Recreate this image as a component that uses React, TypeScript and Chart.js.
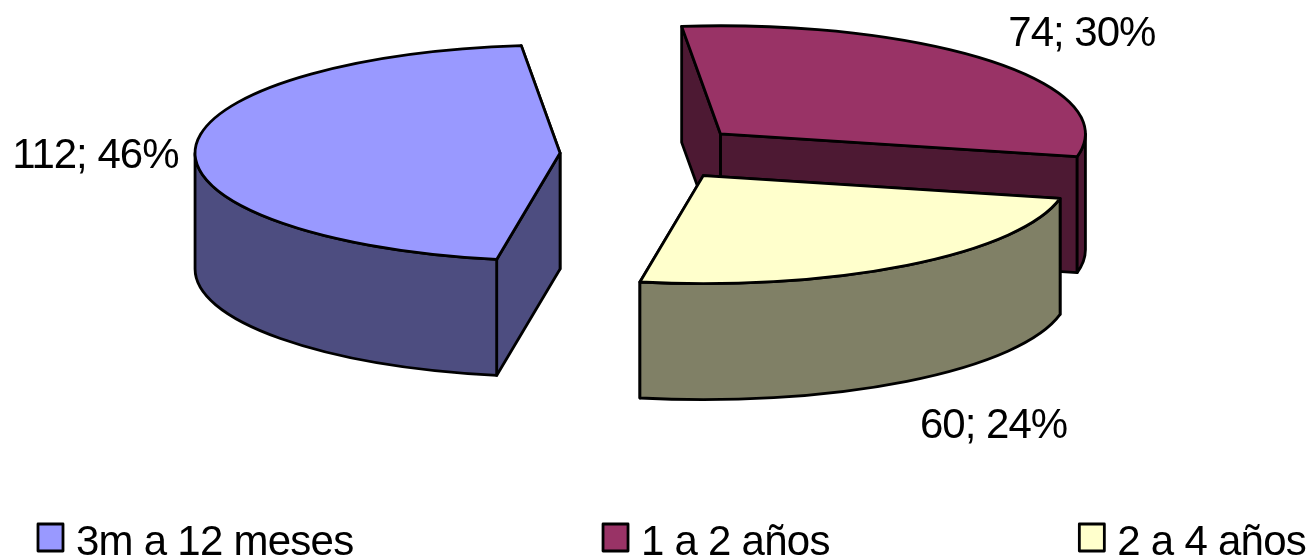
import React, { useEffect, useRef } from "react";
import { Chart, registerables } from "chart.js";

Chart.register(...registerables);

const categories = ["3m a 12 meses", "1 a 2 años", "2 a 4 años"];
const seriesValues = [112, 74, 60];

const topColors = ["#9999ff", "#993366", "#ffffcc"];
const wallColors = ["#4d4d80", "#4d1933", "#808066"];
const labelReach = [465, 486, 515];
const labelNudge = [
  [0, 8],
  [0, -3],
  [3, 8],
];
const sliceLift = [-1, -3, -2];

const TILT = 0.296;
const DEPTH = 116;
const EXPLODE = 92;
const LINE = 2.8;
const FONT = '42px "Liberation Sans", Arial, sans-serif';

function geometry(chart: any, arc: any) {
  const ox = (chart.chartArea.left + chart.chartArea.right) / 2;
  const oy = (chart.chartArea.top + chart.chartArea.bottom) / 2;
  return {
    ox,
    oy,
    cx: arc.x,
    cy: oy + (arc.y - oy) * TILT,
    r: arc.outerRadius,
    a0: arc.startAngle,
    a1: arc.endAngle,
    mid: (arc.startAngle + arc.endAngle) / 2,
  };
}

function paint(ctx: CanvasRenderingContext2D, fill: string) {
  ctx.fillStyle = fill;
  ctx.fill();
  ctx.strokeStyle = "#000";
  ctx.lineWidth = LINE;
  ctx.lineJoin = "round";
  ctx.stroke();
}

function radialWall(ctx: CanvasRenderingContext2D, g: any, angle: number, fill: string) {
  const ex = g.cx + Math.cos(angle) * g.r;
  const ey = g.cy + Math.sin(angle) * g.r * TILT;
  ctx.beginPath();
  ctx.moveTo(g.cx, g.cy);
  ctx.lineTo(ex, ey);
  ctx.lineTo(ex, ey + DEPTH);
  ctx.lineTo(g.cx, g.cy + DEPTH);
  ctx.closePath();
  paint(ctx, fill);
}

function outerWall(ctx: CanvasRenderingContext2D, g: any, fill: string) {
  const TAU = Math.PI * 2;
  for (const base of [-TAU, 0, TAU]) {
    const from = Math.max(g.a0, base);
    const to = Math.min(g.a1, base + Math.PI);
    if (to <= from) continue;
    ctx.beginPath();
    ctx.ellipse(g.cx, g.cy, g.r, g.r * TILT, 0, from, to, false);
    ctx.ellipse(g.cx, g.cy + DEPTH, g.r, g.r * TILT, 0, to, from, true);
    ctx.closePath();
    paint(ctx, fill);
  }
}

const pie3d = {
  id: "pie3d",
  afterDatasetsUpdate(chart: any) {
    // Pull each slice out along its middle angle, in the pie's own flat plane
    chart.getDatasetMeta(0).data.forEach((arc: any, i: number) => {
      const mid = (arc.startAngle + arc.endAngle) / 2;
      arc.x += Math.cos(mid) * EXPLODE;
      arc.y += Math.sin(mid) * EXPLODE + sliceLift[i] / TILT;
    });
  },
  beforeDatasetsDraw(chart: any) {
    const { ctx } = chart;
    const arcs = chart.getDatasetMeta(0).data;
    const order = arcs
      .map((arc: any, i: number) => ({ g: geometry(chart, arc), i }))
      .sort((a: any, b: any) => a.g.cy - b.g.cy);
    for (const { g, i } of order) {
      radialWall(ctx, g, g.a1, wallColors[i]);
      radialWall(ctx, g, g.a0, wallColors[i]);
      outerWall(ctx, g, wallColors[i]);
    }
    const { oy } = order[0].g;
    ctx.save();
    ctx.translate(0, oy);
    ctx.scale(1, TILT);
    ctx.translate(0, -oy);
  },
  afterDatasetsDraw(chart: any) {
    const { ctx } = chart;
    ctx.restore();
    chart.getDatasetMeta(0).data.forEach((arc: any) => {
      const g = geometry(chart, arc);
      ctx.beginPath();
      ctx.moveTo(g.cx, g.cy);
      ctx.ellipse(g.cx, g.cy, g.r, g.r * TILT, 0, g.a0, g.a1, false);
      ctx.closePath();
      ctx.strokeStyle = "#000";
      ctx.lineWidth = LINE;
      ctx.lineJoin = "round";
      ctx.stroke();
    });
  },
  afterDraw(chart: any) {
    const { ctx } = chart;
    const arcs = chart.getDatasetMeta(0).data;
    const values: number[] = chart.data.datasets[0].data;
    const total = values.reduce((s, v) => s + v, 0);
    ctx.save();
    ctx.font = FONT;
    (ctx as any).letterSpacing = "-1px";
    ctx.fillStyle = "#000";
    ctx.textBaseline = "middle";
    ctx.textAlign = "center";
    arcs.forEach((arc: any, i: number) => {
      const g = geometry(chart, arc);
      const lx = g.cx + Math.cos(g.mid) * labelReach[i] + labelNudge[i][0];
      let ly = g.cy + Math.sin(g.mid) * labelReach[i] * TILT + labelNudge[i][1];
      if (Math.sin(g.mid) > 0) ly += DEPTH;
      ctx.fillText(`${values[i]}; ${Math.round((values[i] / total) * 100)}%`, lx, ly);
    });

    // Legend: evenly spread across the width of the chart
    (ctx as any).letterSpacing = "-0.75px";
    const labels: string[] = chart.data.labels;
    const boxW = 27;
    const boxH = 29;
    const boxGap = 12;
    const left = 37;
    const right = 1306;
    const widths = labels.map((t) => ctx.measureText(t).width + boxW + boxGap);
    const gap = (right - left - widths.reduce((s, w) => s + w, 0)) / (labels.length - 1);
    ctx.textAlign = "left";
    ctx.textBaseline = "alphabetic";
    let x = left;
    labels.forEach((t, i) => {
      ctx.fillStyle = topColors[i];
      ctx.fillRect(x + 1, 524, boxW - 2, boxH - 2);
      ctx.strokeStyle = "#000";
      ctx.lineWidth = LINE;
      ctx.strokeRect(x + 1, 524, boxW - 2, boxH - 2);
      ctx.fillStyle = "#000";
      ctx.fillText(t, x + boxW + boxGap, 555);
      x += widths[i] + gap;
    });
    ctx.restore();
  },
};

export default function App() {
  const ref = useRef<HTMLCanvasElement>(null);
  useEffect(() => {
    document.body.style.margin = "0";
    document.body.style.overflow = "hidden";
    const chart = new Chart(ref.current as HTMLCanvasElement, {
      type: "pie",
      data: {
        labels: categories,
        datasets: [
          {
            data: seriesValues,
            backgroundColor: topColors,
            borderWidth: 0,
            clip: false,
          } as any,
        ],
      },
      options: {
        animation: false,
        responsive: false,
        devicePixelRatio: 1,
        events: [],
        rotation: 190,
        radius: 365,
        cutout: "0%",
        layout: { padding: { right: 8, bottom: 249 } },
        plugins: { legend: { display: false }, tooltip: { enabled: false } },
      } as any,
      plugins: [pie3d],
    });
    return () => chart.destroy();
  }, []);
  return (
    <div style={{ width: 1312, height: 559 }}>
      <canvas ref={ref} width={1312} height={559} style={{ display: "block" }} />
    </div>
  );
}
